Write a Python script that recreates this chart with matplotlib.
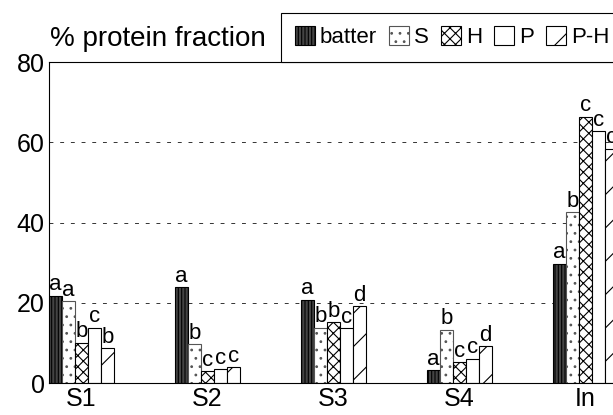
import matplotlib
matplotlib.use("Agg")
import matplotlib.pyplot as plt
import matplotlib.patches as mpatches
import numpy as np

plt.rcParams['font.family'] = ['Liberation Sans', 'DejaVu Sans']
plt.rcParams['hatch.linewidth'] = 0.8

groups = ['S1', 'S2', 'S3', 'S4', 'In']
series = ['batter', 'S', 'H', 'P', 'P-H']
batter = [21.8, 23.9, 20.8, 3.2, 29.7]
s_frac = [20.4, 9.7, 13.8, 13.3, 42.6]
h_frac = [10.0, 3.0, 15.2, 5.2, 66.4]
p_frac = [13.8, 3.5, 13.7, 6.1, 62.7]
ph_frac = [8.7, 4.0, 19.2, 9.2, 58.4]
letters = [['a', 'a', 'b', 'c', 'b'],
           ['a', 'b', 'c', 'c', 'c'],
           ['a', 'b', 'b', 'c', 'd'],
           ['a', 'b', 'c', 'c', 'd'],
           ['a', 'b', 'c', 'c', 'c']]

values = [batter, s_frac, h_frac, p_frac, ph_frac]
styles = [dict(facecolor='#444444', hatch='|||||', edgecolor='black'),
          dict(facecolor='white', hatch='..', edgecolor='#555555'),
          dict(facecolor='white', hatch='xxx', edgecolor='black'),
          dict(facecolor='white', hatch='', edgecolor='black'),
          dict(facecolor='white', hatch='/', edgecolor='black')]

fig = plt.figure(figsize=(6.13, 4.15), dpi=100)
ax = fig.add_axes([0.0799, 0.0771, 0.928, 0.7735])

x = np.arange(len(groups))
w = 0.103
for i, vals in enumerate(values):
    pos = x + (i - 2) * w
    ax.bar(pos, vals, width=w, linewidth=0.8, **styles[i])
    for j, v in enumerate(vals):
        ax.text(pos[j], v + 0.1, letters[j][i], ha='center', va='bottom',
                fontsize=16)

ax.set_xlim(-2.5 * w, 4 + 2.5 * w)
ax.set_ylim(0, 80)
ax.set_yticks([0, 20, 40, 60, 80])
ax.set_xticks(x)
ax.set_xticklabels(groups)
ax.tick_params(axis='both', labelsize=18, length=0, pad=3)
for y in [20, 40, 60]:
    ax.axhline(y, color='#333333', linestyle=(0, (4, 7)), linewidth=0.7, zorder=0)
for sp in ax.spines.values():
    sp.set_linewidth(0.8)

fig.text(0.081, 0.907, '% protein fraction', fontsize=20, va='center')

handles = [mpatches.Patch(linewidth=0.8, **st) for st in styles]
leg = fig.legend(handles, series, loc='lower left', ncol=5,
                 bbox_to_anchor=(0.4584, 0.8506),
                 fontsize=16, handlelength=0.9, handleheight=0.9,
                 handletextpad=0.22, columnspacing=0.55, borderpad=0.62,
                 borderaxespad=0, fancybox=False, framealpha=1)
leg.get_frame().set_edgecolor('black')
leg.get_frame().set_linewidth(0.8)

fig.savefig('out.png', dpi=100)
